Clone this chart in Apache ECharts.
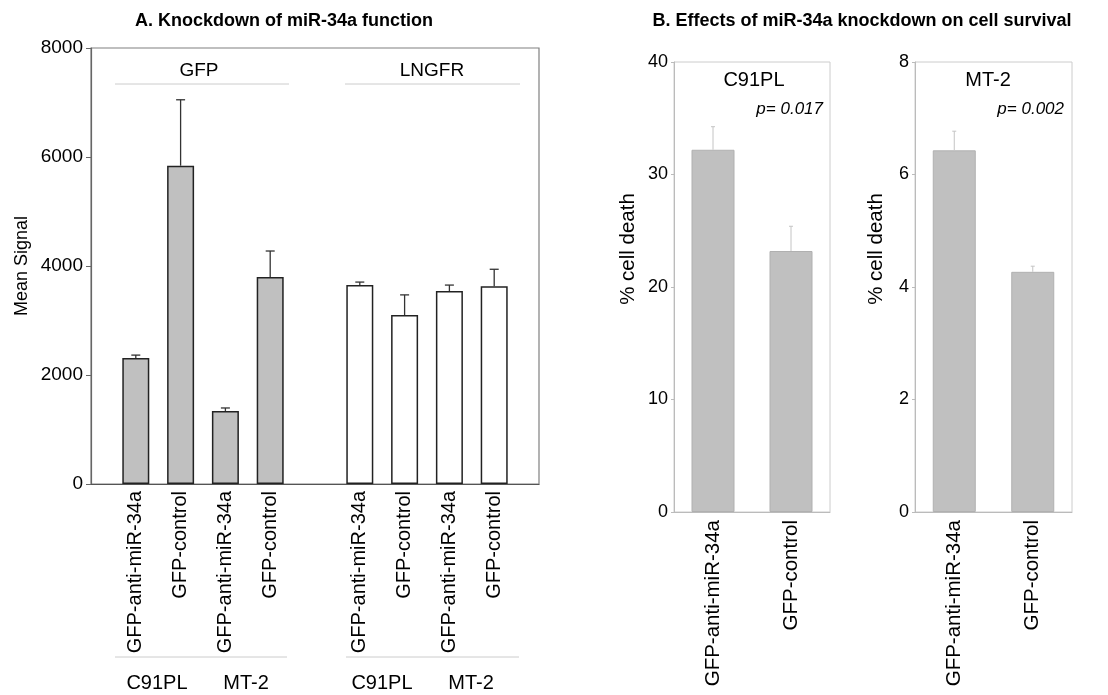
<!DOCTYPE html>
<html>
<head>
<meta charset="utf-8">
<script src="https://cdn.jsdelivr.net/npm/echarts@6/dist/echarts.min.js"></script>
<style>
html,body{margin:0;padding:0;background:#fff;}
#chart{width:1108px;height:695px;}
</style>
</head>
<body>
<div id="chart"></div>
<script>
// ---------- Data ----------
const groupLabelsA = ['GFP', 'LNGFR'];
const cellLinesA = ['C91PL', 'MT-2'];
const constructsA = ['GFP-anti-miR-34a', 'GFP-control', 'GFP-anti-miR-34a', 'GFP-control'];
const gfpSignal = [2310, 5840, 1340, 3800];
const gfpErr = [55, 1210, 55, 475];
const lngfrSignal = [3650, 3100, 3540, 3630];
const lngfrErr = [55, 370, 110, 310];
const yTicksA = [0, 2000, 4000, 6000, 8000];

const constructsB = ['GFP-anti-miR-34a', 'GFP-control'];
const c91Death = [32.2, 23.2];
const c91Err = [2.05, 2.2];
const mt2Death = [6.43, 4.27];
const mt2Err = [0.34, 0.1];
const pValues = ['p= 0.017', 'p= 0.002'];
const panelTitlesB = ['C91PL', 'MT-2'];
const yNameB = '% cell death';

// ---------- Build ----------
const FONT = 'Liberation Sans, Arial, sans-serif';
// panel A category slots: blank, group1 (4), blank, group2 (4), blank
const catA = [''].concat(constructsA, [''], constructsA, ['']);
const idxG1 = [1, 2, 3, 4];
const idxG2 = [6, 7, 8, 9];
const gfpData = catA.map(() => null);
const lngfrData = catA.map(() => null);
idxG1.forEach((k, i) => gfpData[k] = gfpSignal[i]);
idxG2.forEach((k, i) => lngfrData[k] = lngfrSignal[i]);
const errA = idxG1.map((k, i) => [k, gfpSignal[i], gfpErr[i]])
  .concat(idxG2.map((k, i) => [k, lngfrSignal[i], lngfrErr[i]]));
const errB1 = constructsB.map((c, i) => [i, c91Death[i], c91Err[i]]);
const errB2 = constructsB.map((c, i) => [i, mt2Death[i], mt2Err[i]]);

function errRender(color, cap, width) {
  return function (params, api) {
    const x = api.value(0), y = api.value(1), e = api.value(2);
    const p0 = api.coord([x, y]);
    const p1 = api.coord([x, y + e]);
    const st = { stroke: color, lineWidth: width };
    return {
      type: 'group',
      children: [
        { type: 'line', shape: { x1: p0[0], y1: p0[1], x2: p1[0], y2: p1[1] }, style: st },
        { type: 'line', shape: { x1: p1[0] - cap, y1: p1[1], x2: p1[0] + cap, y2: p1[1] }, style: st }
      ]
    };
  };
}

const plainNum = v => String(v);
const labelA = { color: '#000', fontFamily: FONT, fontSize: 20 };
const labelB = { color: '#000', fontFamily: FONT, fontSize: 20.5 };

const chart = echarts.init(document.getElementById('chart'), null, { renderer: 'canvas' });

const option = {
  animation: false,
  backgroundColor: '#fff',
  textStyle: { fontFamily: FONT },
  title: [
    { text: 'A. Knockdown of miR-34a function', left: 279, top: 7, textAlign: 'center',
      textStyle: { fontSize: 18, fontWeight: 'bold', color: '#000', fontFamily: FONT } },
    { text: 'B. Effects of miR-34a knockdown on cell survival', left: 857, top: 7, textAlign: 'center',
      textStyle: { fontSize: 18, fontWeight: 'bold', color: '#000', fontFamily: FONT } }
  ],
  grid: [
    { left: 91, top: 48, width: 448, height: 436, show: true, borderColor: '#808080', borderWidth: 1.2, backgroundColor: 'transparent' },
    { left: 674, top: 62, width: 156, height: 450, show: true, borderColor: '#cccccc', borderWidth: 1, backgroundColor: 'transparent' },
    { left: 915, top: 62, width: 157, height: 450, show: true, borderColor: '#cccccc', borderWidth: 1, backgroundColor: 'transparent' }
  ],
  xAxis: [
    { type: 'category', gridIndex: 0, data: catA, boundaryGap: false,
      axisLine: { lineStyle: { color: '#555', width: 1.2 } }, axisTick: { show: false },
      axisLabel: Object.assign({ rotate: 90, margin: 7, interval: 0 }, labelA) },
    { type: 'category', gridIndex: 1, data: constructsB,
      axisLine: { lineStyle: { color: '#bbb', width: 1 } }, axisTick: { show: false },
      axisLabel: Object.assign({ rotate: 90, margin: 8, interval: 0 }, labelB) },
    { type: 'category', gridIndex: 2, data: constructsB,
      axisLine: { lineStyle: { color: '#bbb', width: 1 } }, axisTick: { show: false },
      axisLabel: Object.assign({ rotate: 90, margin: 8, interval: 0 }, labelB) }
  ],
  yAxis: [
    { type: 'value', gridIndex: 0, min: yTicksA[0], max: yTicksA[yTicksA.length - 1], interval: 2000,
      name: 'Mean Signal', nameLocation: 'middle', nameGap: 60, nameRotate: 90,
      nameTextStyle: { color: '#000', fontFamily: FONT, fontSize: 18 },
      axisLine: { show: true, lineStyle: { color: '#666', width: 1.2 } },
      axisTick: { show: true, length: 5, lineStyle: { color: '#666' } },
      splitLine: { show: false },
      axisLabel: { color: '#000', fontFamily: FONT, fontSize: 19, margin: 8, formatter: plainNum } },
    { type: 'value', gridIndex: 1, min: 0, max: 40, interval: 10,
      axisLine: { show: true, lineStyle: { color: '#bbb', width: 1 } },
      axisTick: { show: true, length: 3, lineStyle: { color: '#bbb' } },
      splitLine: { show: false },
      axisLabel: { color: '#000', fontFamily: FONT, fontSize: 18, margin: 6, formatter: plainNum } },
    { type: 'value', gridIndex: 2, min: 0, max: 8, interval: 2,
      axisLine: { show: true, lineStyle: { color: '#bbb', width: 1 } },
      axisTick: { show: true, length: 3, lineStyle: { color: '#bbb' } },
      splitLine: { show: false },
      axisLabel: { color: '#000', fontFamily: FONT, fontSize: 18, margin: 6, formatter: plainNum } }
  ],
  series: [
    { type: 'bar', xAxisIndex: 0, yAxisIndex: 0, data: gfpData, barWidth: 27, barGap: '-100%',
      itemStyle: { color: '#c0c0c0', borderColor: '#222', borderWidth: 1.5 } },
    { type: 'bar', xAxisIndex: 0, yAxisIndex: 0, data: lngfrData, barWidth: 27, barGap: '-100%',
      itemStyle: { color: '#ffffff', borderColor: '#222', borderWidth: 1.5 } },
    { type: 'custom', xAxisIndex: 0, yAxisIndex: 0, data: errA, renderItem: errRender('#333', 4.5, 1.3), z: 3 },
    { type: 'bar', xAxisIndex: 1, yAxisIndex: 1, data: c91Death, barWidth: 43,
      itemStyle: { color: '#c0c0c0', borderColor: '#b0b0b0', borderWidth: 1 } },
    { type: 'custom', xAxisIndex: 1, yAxisIndex: 1, data: errB1, renderItem: errRender('#c4c4c4', 2, 1), z: 3 },
    { type: 'bar', xAxisIndex: 2, yAxisIndex: 2, data: mt2Death, barWidth: 43,
      itemStyle: { color: '#c0c0c0', borderColor: '#b0b0b0', borderWidth: 1 } },
    { type: 'custom', xAxisIndex: 2, yAxisIndex: 2, data: errB2, renderItem: errRender('#c4c4c4', 2, 1), z: 3 }
  ],
  graphic: [
    // Panel A group headers
    { type: 'text', x: 199, y: 71, style: { text: groupLabelsA[0], fill: '#000', font: '19px ' + FONT, textAlign: 'center', textVerticalAlign: 'middle' } },
    { type: 'text', x: 432, y: 71, style: { text: groupLabelsA[1], fill: '#000', font: '19px ' + FONT, textAlign: 'center', textVerticalAlign: 'middle' } },
    { type: 'line', shape: { x1: 115, y1: 84, x2: 289, y2: 84 }, style: { stroke: '#cccccc', lineWidth: 1 } },
    { type: 'line', shape: { x1: 345, y1: 84, x2: 520, y2: 84 }, style: { stroke: '#cccccc', lineWidth: 1 } },
    // Panel A cell-line labels
    { type: 'line', shape: { x1: 115, y1: 657, x2: 287, y2: 657 }, style: { stroke: '#cccccc', lineWidth: 1 } },
    { type: 'line', shape: { x1: 346, y1: 657, x2: 519, y2: 657 }, style: { stroke: '#cccccc', lineWidth: 1 } },
    { type: 'text', x: 157, y: 683, style: { text: cellLinesA[0], fill: '#000', font: '20px ' + FONT, textAlign: 'center', textVerticalAlign: 'middle' } },
    { type: 'text', x: 246, y: 683, style: { text: cellLinesA[1], fill: '#000', font: '20px ' + FONT, textAlign: 'center', textVerticalAlign: 'middle' } },
    { type: 'text', x: 382, y: 683, style: { text: cellLinesA[0], fill: '#000', font: '20px ' + FONT, textAlign: 'center', textVerticalAlign: 'middle' } },
    { type: 'text', x: 471, y: 683, style: { text: cellLinesA[1], fill: '#000', font: '20px ' + FONT, textAlign: 'center', textVerticalAlign: 'middle' } },
    // Panel B headers
    { type: 'text', x: 754, y: 80, style: { text: panelTitlesB[0], fill: '#000', font: '20px ' + FONT, textAlign: 'center', textVerticalAlign: 'middle' } },
    { type: 'text', x: 988, y: 80, style: { text: panelTitlesB[1], fill: '#000', font: '20px ' + FONT, textAlign: 'center', textVerticalAlign: 'middle' } },
    { type: 'text', x: 823, y: 109, style: { text: pValues[0], fill: '#000', font: 'italic 17px ' + FONT, textAlign: 'right', textVerticalAlign: 'middle' } },
    { type: 'text', x: 1064, y: 109, style: { text: pValues[1], fill: '#000', font: 'italic 17px ' + FONT, textAlign: 'right', textVerticalAlign: 'middle' } },
    // Panel B y-axis names
    { type: 'text', x: 628, y: 249, rotation: Math.PI / 2, style: { text: yNameB, fill: '#000', font: '20.5px ' + FONT, textAlign: 'center', textVerticalAlign: 'middle' } },
    { type: 'text', x: 876, y: 249, rotation: Math.PI / 2, style: { text: yNameB, fill: '#000', font: '20.5px ' + FONT, textAlign: 'center', textVerticalAlign: 'middle' } }
  ]
};
chart.setOption(option);
</script>
</body>
</html>
